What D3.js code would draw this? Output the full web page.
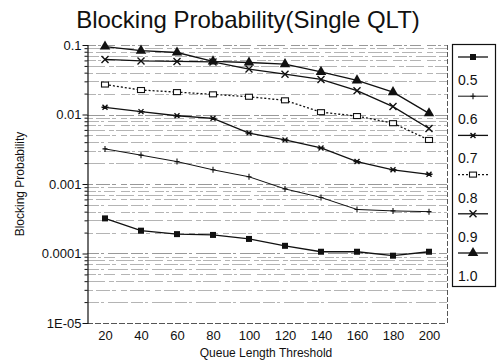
<!DOCTYPE html>
<html>
<head>
<meta charset="utf-8">
<script src="https://cdn.jsdelivr.net/npm/d3@7"></script>
<style>
  body { margin: 0; background: #fff; }
  text { font-family: "Liberation Sans", Arial, sans-serif; fill: #111; }
</style>
</head>
<body>
<svg id="chart" width="504" height="363"></svg>
<script>
var width = 504;
var height = 363;

// queue length thresholds
var thresholds = [20, 40, 60, 80, 100, 120, 140, 160, 180, 200];

// blocking probability per load
var load05 = [0.00032, 0.000213, 0.00019, 0.000185, 0.000162, 0.000129, 0.000106, 0.000106, 0.000093, 0.000106];
var load06 = [0.0032, 0.0026, 0.0021, 0.0016, 0.00127, 0.00085, 0.00064, 0.00043, 0.00041, 0.0004];
var load07 = [0.0127, 0.011, 0.0096, 0.0088, 0.0054, 0.0043, 0.0033, 0.0021, 0.0016, 0.00138];
var load08 = [0.027, 0.0225, 0.021, 0.0195, 0.018, 0.016, 0.0108, 0.0095, 0.0075, 0.0043];
var load09 = [0.062, 0.059, 0.058, 0.057, 0.045, 0.038, 0.032, 0.022, 0.013, 0.0063];
var load10 = [0.095, 0.083, 0.078, 0.058, 0.056, 0.053, 0.041, 0.031, 0.021, 0.0104];

var seriesNames = ["0.5", "0.6", "0.7", "0.8", "0.9", "1.0"];
var seriesData = [load05, load06, load07, load08, load09, load10];
var seriesMarks = ["fsquare", "plus", "star", "osquare", "cross", "triangle"];

var yTickValues = [0.1, 0.01, 0.001, 0.0001, 0.00001];
var yTickLabels = ["0.1", "0.01", "0.001", "0.0001", "1E-05"];

var plotLeft = 87, plotRight = 447, plotTop = 45, plotBottom = 323;

var x = d3.scalePoint()
  .domain(thresholds)
  .range([plotLeft, plotRight])
  .padding(0.5);

var y = d3.scaleLog()
  .domain([1e-5, 0.1])
  .range([plotBottom, plotTop]);

var svg = d3.select("#chart");

// all minor tick values 1e-5 .. 0.1
var minorVals = [];
for (var e = -5; e < -1; e++) {
  for (var m = 1; m < 10; m++) minorVals.push(m * Math.pow(10, e));
}
minorVals.push(0.1);

function isMajor(d) {
  return yTickValues.some(function(v) { return Math.abs(v - d) / v < 1e-6; });
}

// horizontal grid lines (broken, light, like a scanned print)
var dashes = ["12,2,3,4,20,3", "6,3,14,2,4,5", "18,4,5,2", "9,2,3,3,11,6"];
svg.append("g")
  .selectAll("line")
  .data(minorVals.filter(function(v) { return v > 1.01e-5; }))
  .enter()
  .append("line")
    .attr("x1", plotLeft)
    .attr("x2", plotRight)
    .attr("y1", function(d) { return Math.round(y(d)) + 0.5; })
    .attr("y2", function(d) { return Math.round(y(d)) + 0.5; })
    .attr("stroke", function(d) { return isMajor(d) ? "#999" : "#b4b4b4"; })
    .attr("stroke-width", 1)
    .attr("stroke-dasharray", function(d, i) { return dashes[i % dashes.length]; });

// frame (right and bottom dashed)
svg.append("line")
  .attr("x1", plotRight + 0.5).attr("x2", plotRight + 0.5)
  .attr("y1", plotTop).attr("y2", plotBottom)
  .attr("stroke", "#555").attr("stroke-dasharray", "5,2");
svg.append("line")
  .attr("x1", plotLeft).attr("x2", plotRight)
  .attr("y1", plotBottom + 0.5).attr("y2", plotBottom + 0.5)
  .attr("stroke", "#555").attr("stroke-dasharray", "6,2");

// y axis
var yAxis = svg.append("g")
  .attr("transform", "translate(" + (plotLeft + 0.5) + ",0)")
  .call(d3.axisLeft(y)
    .tickValues(minorVals)
    .tickSize(3)
    .tickFormat(function(d) {
      var i = yTickValues.findIndex(function(v) { return Math.abs(v - d) / v < 1e-6; });
      return i >= 0 ? yTickLabels[i] : "";
    }));
yAxis.select(".domain").attr("stroke", "#111").attr("stroke-width", 1.2);
yAxis.selectAll(".tick line").attr("stroke", "#111")
  .attr("x2", function(d) { return isMajor(d) ? -5 : -3; });
yAxis.selectAll(".tick text")
  .attr("x", -6)
  .style("font-size", "13px");

// x axis
var xAxis = svg.append("g")
  .attr("transform", "translate(0," + plotBottom + ")")
  .call(d3.axisBottom(x).tickSize(0).tickPadding(8));
xAxis.select(".domain").remove();
xAxis.selectAll(".tick text").style("font-size", "13px");

// titles
svg.append("text")
  .attr("x", 248).attr("y", 28)
  .attr("text-anchor", "middle")
  .style("font-size", "24px")
  .text("Blocking Probability(Single QLT)");

svg.append("text")
  .attr("x", 266).attr("y", 357)
  .attr("text-anchor", "middle")
  .style("font-size", "12px")
  .text("Queue Length Threshold");

svg.append("text")
  .attr("transform", "translate(24,184) rotate(-90)")
  .attr("text-anchor", "middle")
  .style("font-size", "12px")
  .text("Blocking Probability");

// marker drawing
function marker(g, kind) {
  if (kind === "fsquare") {
    g.append("rect").attr("x", -3).attr("y", -3).attr("width", 6).attr("height", 6).attr("fill", "#111");
  } else if (kind === "osquare") {
    g.append("rect").attr("x", -3.5).attr("y", -2.5).attr("width", 7).attr("height", 5)
      .attr("fill", "#fff").attr("stroke", "#111").attr("stroke-width", 1.1);
  } else if (kind === "plus") {
    g.append("path").attr("d", "M-2.5,0H2.5M0,-3V3").attr("stroke", "#111").attr("stroke-width", 1.1);
  } else if (kind === "star") {
    g.append("path").attr("d", "M-2.5,-2.5L2.5,2.5M-2.5,2.5L2.5,-2.5M-3.5,0H3.5").attr("stroke", "#111").attr("stroke-width", 1.4);
  } else if (kind === "cross") {
    g.append("path").attr("d", "M-3.5,-3.5L3.5,3.5M-3.5,3.5L3.5,-3.5").attr("stroke", "#111").attr("stroke-width", 1.4);
  } else if (kind === "triangle") {
    g.append("path").attr("d", d3.symbol().type(d3.symbolTriangle).size(48)()).attr("fill", "#111");
  }
}

var line = d3.line()
  .x(function(d, i) { return x(thresholds[i]); })
  .y(function(d) { return y(d); });

seriesData.forEach(function(vals, s) {
  svg.append("path")
    .datum(vals)
    .attr("fill", "none")
    .attr("stroke", "#111")
    .attr("stroke-width", s === 1 ? 1 : 1.3)
    .attr("stroke-dasharray", s === 3 ? "2,2" : null)
    .attr("d", line);
  svg.append("g")
    .selectAll("g")
    .data(vals)
    .enter()
    .append("g")
      .attr("transform", function(d, i) { return "translate(" + x(thresholds[i]) + "," + y(d) + ")"; })
      .each(function() { marker(d3.select(this), seriesMarks[s]); });
});

// legend
var legend = svg.append("g");
legend.append("rect")
  .attr("x", 452.5).attr("y", 44.5)
  .attr("width", 43).attr("height", 242)
  .attr("fill", "#fff").attr("stroke", "#111").attr("stroke-width", 1.2);

seriesNames.forEach(function(name, s) {
  var ly = 57 + s * 39.2;
  legend.append("line")
    .attr("x1", 458).attr("x2", 488)
    .attr("y1", ly).attr("y2", ly)
    .attr("stroke", "#111")
    .attr("stroke-width", s === 1 ? 1 : 1.3)
    .attr("stroke-dasharray", s === 3 ? "2,2" : null);
  marker(legend.append("g").attr("transform", "translate(473," + ly + ")"), seriesMarks[s]);
  legend.append("text")
    .attr("x", 458).attr("y", ly + 28)
    .style("font-size", "14px")
    .text(name);
});
</script>
</body>
</html>
